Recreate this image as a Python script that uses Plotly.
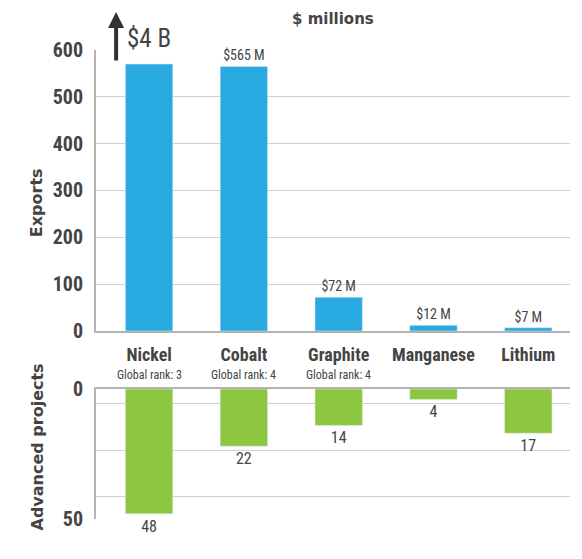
import plotly.graph_objects as go

# ---- data ----
minerals = ["Nickel", "Cobalt", "Graphite", "Manganese", "Lithium"]
global_rank = [3, 4, 4, None, None]
exports_musd = [4000, 565, 72, 12, 7]
export_labels = ["$4 B", "$565 M", "$72 M", "$12 M", "$7 M"]
exports_axis_cap = 570          # bars beyond the axis are drawn up to this value
projects = [48, 22, 14, 4, 17]
export_ticks = [0, 100, 200, 300, 400, 500, 600]
project_ticks = [0, 50]

NARROW = "Roboto Condensed, Open Sans Condensed, Roboto, sans-serif"
WIDE = "DejaVu Sans, sans-serif"
BLUE = "#29ABE2"
GREEN = "#8DC63F"
TXT = "#444444"
AXC = "#b3b3b3"
GRID = "#d0d0d0"

shown_exports = [min(v, exports_axis_cap) for v in exports_musd]
bar_text = [("" if v > exports_axis_cap else lab) for v, lab in zip(exports_musd, export_labels)]

fig = go.Figure()
fig.add_trace(go.Bar(
    x=minerals, y=shown_exports, marker_color=BLUE, width=0.5,
    text=bar_text, textposition="outside", cliponaxis=False,
    textfont=dict(family=NARROW, size=14, color=TXT),
    xaxis="x", yaxis="y", hoverinfo="skip",
))
fig.add_trace(go.Bar(
    x=minerals, y=projects, marker_color=GREEN, width=0.5,
    text=[str(p) for p in projects], textposition="outside", cliponaxis=False,
    textfont=dict(family=NARROW, size=16, color=TXT),
    xaxis="x2", yaxis="y2", hoverinfo="skip",
))

xr = [-0.56, 4.44]
fig.update_layout(
    width=574, height=551,
    margin=dict(l=88, r=12, t=42, b=40),
    plot_bgcolor="white", paper_bgcolor="white",
    showlegend=False,
    font=dict(family=NARROW, color=TXT),
    xaxis=dict(domain=[0, 1], range=xr, anchor="y",
               tickmode="array", tickvals=minerals,
               ticktext=[f"<b>{m}</b>" for m in minerals],
               tickfont=dict(family=NARROW, size=18, color=TXT),
               showline=True, linecolor=AXC, linewidth=2, ticks="",
               ticklabelstandoff=6,
               showgrid=False, zeroline=False),
    yaxis=dict(domain=[0.4009, 1], range=[0, 600], anchor="x",
               tickmode="array", tickvals=export_ticks,
               ticktext=[f"<b>{v}</b>" for v in export_ticks],
               tickfont=dict(family=NARROW, size=20, color=TXT),
               showline=True, linecolor=AXC, linewidth=2, ticks="",
               ticklabelstandoff=7,
               showgrid=True, gridcolor=GRID, gridwidth=1, zeroline=False),
    xaxis2=dict(domain=[0, 1], range=xr, anchor="y2", side="top",
                showticklabels=False, showline=True, linecolor=AXC, linewidth=2,
                ticks="", showgrid=False, zeroline=False),
    yaxis2=dict(domain=[0, 0.2772], range=[50, 0], anchor="x2",
                tickmode="array", tickvals=project_ticks,
                ticktext=[f"<b>{v}</b>" for v in project_ticks],
                tickfont=dict(family=NARROW, size=20, color=TXT),
                showline=True, linecolor=AXC, linewidth=2, ticks="",
                ticklabelstandoff=7,
                showgrid=False, zeroline=False,
                minor=dict(tickmode="array", tickvals=[5.4, 23.5, 41.5],
                           showgrid=True, gridcolor=GRID, gridwidth=1, ticks="")),
)

# "Global rank" sub-labels
for m, r in zip(minerals, global_rank):
    if r is not None:
        fig.add_annotation(x=m, y=0, xref="x", yref="y", yshift=-44,
                           text=f"Global rank: {r}", showarrow=False,
                           font=dict(family=NARROW, size=12, color=TXT),
                           xanchor="center", yanchor="middle")

# arrow + "$4 B" for the off-scale bar
for m, v, lab in zip(minerals, exports_musd, export_labels):
    if v > exports_axis_cap:
        fig.add_annotation(x=m, y=exports_axis_cap, xref="x", yref="y",
                           xshift=-33, yshift=52, showarrow=True, text="",
                           ax=0, ay=50, axref="pixel", ayref="pixel",
                           arrowhead=2, arrowsize=0.8, arrowwidth=4, arrowcolor="#333333")
        fig.add_annotation(x=m, y=exports_axis_cap, xref="x", yref="y",
                           yshift=26, showarrow=False, text=lab,
                           font=dict(family=NARROW, size=25, color=TXT),
                           xanchor="center", yanchor="middle")

fig.add_annotation(x=0.5, y=1, xref="paper", yref="paper", yshift=31,
                   text="<b>$ millions</b>", showarrow=False,
                   font=dict(family=WIDE, size=15, color=TXT),
                   xanchor="center", yanchor="middle")
fig.add_annotation(x=0, y=0.455, xref="paper", yref="y domain", xshift=-60,
                   text="<b>Exports</b>", textangle=-90, showarrow=False,
                   font=dict(family=WIDE, size=16, color=TXT),
                   xanchor="center", yanchor="middle")
fig.add_annotation(x=0, y=0.55, xref="paper", yref="y2 domain", xshift=-59,
                   text="<b>Advanced projects</b>", textangle=-90, showarrow=False,
                   font=dict(family=WIDE, size=16, color=TXT),
                   xanchor="center", yanchor="middle")

fig.write_html("out.html")
